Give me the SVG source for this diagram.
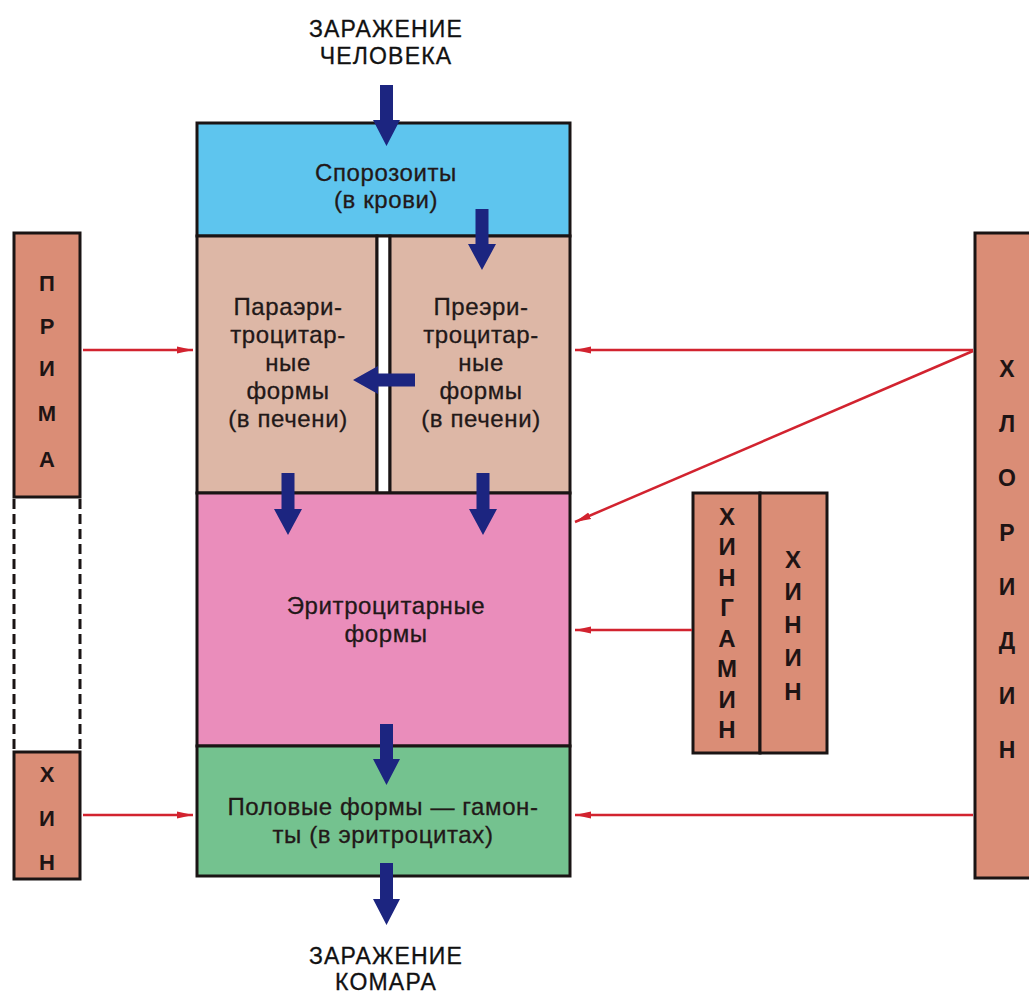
<svg xmlns="http://www.w3.org/2000/svg" width="1029" height="993" viewBox="0 0 1029 993">
<style>
.box{stroke:#1a1414;stroke-width:3}
.blue{fill:#5ec5ee}
.liver{fill:#ddb7a6}
.pink{fill:#ea8dbb}
.green{fill:#74c28f}
.drug{fill:#da8d76}
.t{font-family:"Liberation Sans",Arial,sans-serif;font-size:24px;letter-spacing:0.6px;fill:#221818;stroke:#221818;stroke-width:0.3;text-anchor:middle}
.h{font-family:"Liberation Sans",Arial,sans-serif;font-size:23px;letter-spacing:1.2px;fill:#111;stroke:#111;stroke-width:0.3;text-anchor:middle}
.v{font-family:"Liberation Sans",Arial,sans-serif;font-weight:bold;fill:#1e1414;text-anchor:middle}
.nav{fill:#1c2580}
.red{stroke:#d2232f;stroke-width:2.5;fill:none}
</style>
<defs>
<marker id="ah" viewBox="0 0 16 8" refX="16" refY="4" markerWidth="16" markerHeight="8" markerUnits="userSpaceOnUse" orient="auto">
<path d="M0,0.5 L16,4 L0,7.5 Z" fill="#d2232f"/>
</marker>
</defs>

<g id="title-top">
<text class="h" x="386" y="37">ЗАРАЖЕНИЕ</text>
<text class="h" x="386" y="64">ЧЕЛОВЕКА</text>
</g>
<g id="title-bottom">
<text class="h" x="386" y="964">ЗАРАЖЕНИЕ</text>
<text class="h" x="386" y="990">КОМАРА</text>
</g>

<g id="sporozoites">
<rect class="box blue" x="197" y="123" width="373" height="113"/>
<text class="t" x="386" y="181">Спорозоиты</text>
<text class="t" x="386" y="208">(в крови)</text>
</g>

<g id="para">
<rect class="box liver" x="197" y="236" width="180" height="257"/>
<text class="t" x="288" y="315">Параэри-</text>
<text class="t" x="288" y="343">троцитар-</text>
<text class="t" x="288" y="371">ные</text>
<text class="t" x="288" y="399">формы</text>
<text class="t" x="288" y="427">(в печени)</text>
</g>
<g id="divider">
<rect class="box" fill="#ffffff" x="377" y="236" width="13" height="257"/>
</g>
<g id="prez">
<rect class="box liver" x="390" y="236" width="180" height="257"/>
<text class="t" x="481" y="315">Преэри-</text>
<text class="t" x="481" y="343">троцитар-</text>
<text class="t" x="481" y="371">ные</text>
<text class="t" x="481" y="399">формы</text>
<text class="t" x="481" y="427">(в печени)</text>
</g>

<g id="erythro">
<rect class="box pink" x="197" y="493" width="373" height="253"/>
<text class="t" x="386" y="614">Эритроцитарные</text>
<text class="t" x="386" y="642">формы</text>
</g>

<g id="gamonts">
<rect class="box green" x="197" y="746" width="373" height="130"/>
<text class="t" x="383" y="815">Половые формы — гамон-</text>
<text class="t" x="383" y="843">ты (в эритроцитах)</text>
</g>

<g id="prima">
<rect class="box drug" x="14" y="233" width="66" height="264"/>
<text class="v" font-size="22" x="47" y="291">П</text>
<text class="v" font-size="22" x="47" y="334">Р</text>
<text class="v" font-size="22" x="47" y="376">И</text>
<text class="v" font-size="22" x="47" y="421">М</text>
<text class="v" font-size="22" x="47" y="467">А</text>
</g>
<g id="dashed">
<line x1="14" y1="499" x2="14" y2="751" stroke="#1a1414" stroke-width="3" stroke-dasharray="10,5"/>
<line x1="80" y1="499" x2="80" y2="751" stroke="#1a1414" stroke-width="3" stroke-dasharray="10,5"/>
</g>
<g id="khin">
<rect class="box drug" x="14" y="752" width="66" height="127"/>
<text class="v" font-size="22" x="47" y="782">Х</text>
<text class="v" font-size="22" x="47" y="826">И</text>
<text class="v" font-size="22" x="47" y="870">Н</text>
</g>

<g id="khingamin">
<rect class="box drug" x="693" y="493" width="67" height="260"/>
<text class="v" font-size="24" x="727" y="525">Х</text>
<text class="v" font-size="24" x="727" y="555">И</text>
<text class="v" font-size="24" x="727" y="586">Н</text>
<text class="v" font-size="24" x="727" y="616">Г</text>
<text class="v" font-size="24" x="727" y="647">А</text>
<text class="v" font-size="24" x="727" y="677">М</text>
<text class="v" font-size="24" x="727" y="708">И</text>
<text class="v" font-size="24" x="727" y="738">Н</text>
</g>
<g id="khinin">
<rect class="box drug" x="760" y="493" width="67" height="260"/>
<text class="v" font-size="24" x="793" y="568">Х</text>
<text class="v" font-size="24" x="793" y="600">И</text>
<text class="v" font-size="24" x="793" y="633">Н</text>
<text class="v" font-size="24" x="793" y="666">И</text>
<text class="v" font-size="24" x="793" y="700">Н</text>
</g>

<g id="khloridin">
<rect class="box drug" x="975" y="233" width="70" height="645"/>
<text class="v" font-size="23" x="1007" y="377">Х</text>
<text class="v" font-size="23" x="1007" y="432">Л</text>
<text class="v" font-size="23" x="1007" y="486">О</text>
<text class="v" font-size="23" x="1007" y="541">Р</text>
<text class="v" font-size="23" x="1007" y="595">И</text>
<text class="v" font-size="23" x="1007" y="649">Д</text>
<text class="v" font-size="23" x="1007" y="704">И</text>
<text class="v" font-size="23" x="1007" y="758">Н</text>
</g>

<g id="connectors">
<polygon class="nav" points="380,85 393,85 393,120 400,120 386.5,146 373,120 380,120"/>
<polygon class="nav" points="475.5,209 488.5,209 488.5,244 496,244 482,270 468,244 475.5,244"/>
<polygon class="nav" points="415,373.5 378,373.5 378,366 353,380 378,394 378,386.5 415,386.5"/>
<polygon class="nav" points="281.5,473 294.5,473 294.5,509 302,509 288,535 274,509 281.5,509"/>
<polygon class="nav" points="476.5,473 489.5,473 489.5,509 497,509 483,535 469,509 476.5,509"/>
<polygon class="nav" points="380,724 393,724 393,759 400,759 386.5,785 373,759 380,759"/>
<polygon class="nav" points="380,863 393,863 393,899 400,899 386.5,925 373,899 380,899"/>
<line class="red" x1="83" y1="350" x2="193" y2="350" marker-end="url(#ah)"/>
<line class="red" x1="83" y1="815" x2="193" y2="815" marker-end="url(#ah)"/>
<line class="red" x1="973" y1="350" x2="575" y2="350" marker-end="url(#ah)"/>
<line class="red" x1="973" y1="351" x2="575" y2="522" marker-end="url(#ah)"/>
<line class="red" x1="692" y1="630" x2="575" y2="630" marker-end="url(#ah)"/>
<line class="red" x1="973" y1="815" x2="575" y2="815" marker-end="url(#ah)"/>
</g>
</svg>
